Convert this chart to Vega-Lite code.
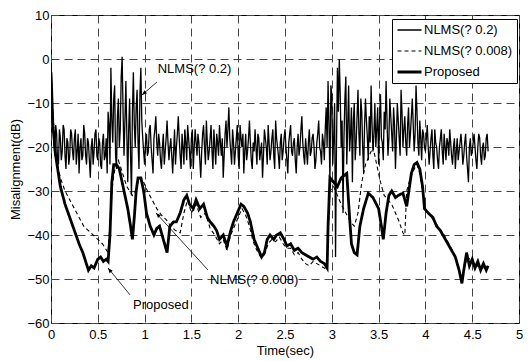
{
"$schema": "https://vega.github.io/schema/vega-lite/v6.json",
"autosize": "none",
"padding": {"left": 51, "top": 15, "right": 9, "bottom": 38},
"width": 468,
"height": 308,
"background": "white",
"config": {
  "view": {"stroke": "black", "strokeWidth": 1},
  "axis": {"grid": true, "gridColor": "#444", "gridDash": [8, 5], "gridWidth": 1, "gridOpacity": 1, "domain": false, "ticks": false, "labelFont": "Liberation Sans", "labelFontSize": 13, "labelColor": "black", "titleFont": "Liberation Sans", "titleFontSize": 13, "titleFontWeight": "normal", "titleColor": "black", "labelOverlap": false, "labelFlush": false},
  "text": {"font": "Liberation Sans", "fontSize": 13, "color": "black"}
},
"datasets": {
"series": [
{"s":"NLMS(? 0.2)","t":0.00,"v":-1},{"s":"NLMS(? 0.2)","t":0.01,"v":-8},{"s":"NLMS(? 0.2)","t":0.02,"v":-14},{"s":"NLMS(? 0.2)","t":0.03,"v":-19},{"s":"NLMS(? 0.2)","t":0.04,"v":-22},{"s":"NLMS(? 0.2)","t":0.05,"v":-15},{"s":"NLMS(? 0.2)","t":0.06,"v":-17},{"s":"NLMS(? 0.2)","t":0.07,"v":-23},{"s":"NLMS(? 0.2)","t":0.08,"v":-24},{"s":"NLMS(? 0.2)","t":0.09,"v":-16},
{"s":"NLMS(? 0.2)","t":0.10,"v":-18},{"s":"NLMS(? 0.2)","t":0.11,"v":-23},{"s":"NLMS(? 0.2)","t":0.12,"v":-21},{"s":"NLMS(? 0.2)","t":0.13,"v":-15},{"s":"NLMS(? 0.2)","t":0.14,"v":-16},{"s":"NLMS(? 0.2)","t":0.15,"v":-22},{"s":"NLMS(? 0.2)","t":0.16,"v":-25},{"s":"NLMS(? 0.2)","t":0.17,"v":-18},{"s":"NLMS(? 0.2)","t":0.18,"v":-19},{"s":"NLMS(? 0.2)","t":0.19,"v":-24},
{"s":"NLMS(? 0.2)","t":0.20,"v":-22},{"s":"NLMS(? 0.2)","t":0.21,"v":-16},{"s":"NLMS(? 0.2)","t":0.22,"v":-17},{"s":"NLMS(? 0.2)","t":0.23,"v":-21},{"s":"NLMS(? 0.2)","t":0.24,"v":-23},{"s":"NLMS(? 0.2)","t":0.25,"v":-18},{"s":"NLMS(? 0.2)","t":0.26,"v":-16},{"s":"NLMS(? 0.2)","t":0.27,"v":-24},{"s":"NLMS(? 0.2)","t":0.28,"v":-21},{"s":"NLMS(? 0.2)","t":0.29,"v":-17},
{"s":"NLMS(? 0.2)","t":0.30,"v":-26},{"s":"NLMS(? 0.2)","t":0.31,"v":-20},{"s":"NLMS(? 0.2)","t":0.32,"v":-18},{"s":"NLMS(? 0.2)","t":0.33,"v":-23},{"s":"NLMS(? 0.2)","t":0.34,"v":-22},{"s":"NLMS(? 0.2)","t":0.35,"v":-15},{"s":"NLMS(? 0.2)","t":0.36,"v":-17},{"s":"NLMS(? 0.2)","t":0.37,"v":-22},{"s":"NLMS(? 0.2)","t":0.38,"v":-24},{"s":"NLMS(? 0.2)","t":0.39,"v":-18},
{"s":"NLMS(? 0.2)","t":0.40,"v":-19},{"s":"NLMS(? 0.2)","t":0.41,"v":-23},{"s":"NLMS(? 0.2)","t":0.42,"v":-27},{"s":"NLMS(? 0.2)","t":0.43,"v":-20},{"s":"NLMS(? 0.2)","t":0.44,"v":-18},{"s":"NLMS(? 0.2)","t":0.45,"v":-24},{"s":"NLMS(? 0.2)","t":0.46,"v":-21},{"s":"NLMS(? 0.2)","t":0.47,"v":-17},{"s":"NLMS(? 0.2)","t":0.48,"v":-16},{"s":"NLMS(? 0.2)","t":0.49,"v":-22},
{"s":"NLMS(? 0.2)","t":0.50,"v":-23},{"s":"NLMS(? 0.2)","t":0.51,"v":-18},{"s":"NLMS(? 0.2)","t":0.52,"v":-19},{"s":"NLMS(? 0.2)","t":0.53,"v":-24},{"s":"NLMS(? 0.2)","t":0.54,"v":-25},{"s":"NLMS(? 0.2)","t":0.55,"v":-19},{"s":"NLMS(? 0.2)","t":0.56,"v":-17},{"s":"NLMS(? 0.2)","t":0.57,"v":-23},{"s":"NLMS(? 0.2)","t":0.58,"v":-22},{"s":"NLMS(? 0.2)","t":0.59,"v":-18},
{"s":"NLMS(? 0.2)","t":0.60,"v":-26},{"s":"NLMS(? 0.2)","t":0.61,"v":-12},{"s":"NLMS(? 0.2)","t":0.62,"v":-15},{"s":"NLMS(? 0.2)","t":0.63,"v":-24},{"s":"NLMS(? 0.2)","t":0.64,"v":-2},{"s":"NLMS(? 0.2)","t":0.65,"v":-14},{"s":"NLMS(? 0.2)","t":0.66,"v":-19},{"s":"NLMS(? 0.2)","t":0.67,"v":-9},{"s":"NLMS(? 0.2)","t":0.68,"v":-6},{"s":"NLMS(? 0.2)","t":0.69,"v":-22},
{"s":"NLMS(? 0.2)","t":0.70,"v":-25},{"s":"NLMS(? 0.2)","t":0.71,"v":-13},{"s":"NLMS(? 0.2)","t":0.72,"v":-9},{"s":"NLMS(? 0.2)","t":0.73,"v":-20},{"s":"NLMS(? 0.2)","t":0.74,"v":-16},{"s":"NLMS(? 0.2)","t":0.75,"v":-4},{"s":"NLMS(? 0.2)","t":0.76,"v":0.5},{"s":"NLMS(? 0.2)","t":0.77,"v":-12},{"s":"NLMS(? 0.2)","t":0.78,"v":-22},{"s":"NLMS(? 0.2)","t":0.79,"v":-14},
{"s":"NLMS(? 0.2)","t":0.80,"v":-5},{"s":"NLMS(? 0.2)","t":0.81,"v":-17},{"s":"NLMS(? 0.2)","t":0.82,"v":-28},{"s":"NLMS(? 0.2)","t":0.83,"v":-16},{"s":"NLMS(? 0.2)","t":0.84,"v":-9},{"s":"NLMS(? 0.2)","t":0.85,"v":-22},{"s":"NLMS(? 0.2)","t":0.86,"v":-31},{"s":"NLMS(? 0.2)","t":0.87,"v":-12},{"s":"NLMS(? 0.2)","t":0.88,"v":-3},{"s":"NLMS(? 0.2)","t":0.89,"v":-15},
{"s":"NLMS(? 0.2)","t":0.90,"v":-20},{"s":"NLMS(? 0.2)","t":0.91,"v":-11},{"s":"NLMS(? 0.2)","t":0.92,"v":-7},{"s":"NLMS(? 0.2)","t":0.93,"v":-19},{"s":"NLMS(? 0.2)","t":0.94,"v":-25},{"s":"NLMS(? 0.2)","t":0.95,"v":-8},{"s":"NLMS(? 0.2)","t":0.96,"v":-2},{"s":"NLMS(? 0.2)","t":0.97,"v":-14},{"s":"NLMS(? 0.2)","t":0.98,"v":-18},{"s":"NLMS(? 0.2)","t":0.99,"v":-21},
{"s":"NLMS(? 0.2)","t":1.00,"v":-24},{"s":"NLMS(? 0.2)","t":1.01,"v":-19},{"s":"NLMS(? 0.2)","t":1.02,"v":-17},{"s":"NLMS(? 0.2)","t":1.03,"v":-22},{"s":"NLMS(? 0.2)","t":1.04,"v":-21},{"s":"NLMS(? 0.2)","t":1.05,"v":-16},{"s":"NLMS(? 0.2)","t":1.06,"v":-15},{"s":"NLMS(? 0.2)","t":1.07,"v":-20},{"s":"NLMS(? 0.2)","t":1.08,"v":-23},{"s":"NLMS(? 0.2)","t":1.09,"v":-26},
{"s":"NLMS(? 0.2)","t":1.10,"v":-18},{"s":"NLMS(? 0.2)","t":1.11,"v":-16},{"s":"NLMS(? 0.2)","t":1.12,"v":-13},{"s":"NLMS(? 0.2)","t":1.13,"v":-19},{"s":"NLMS(? 0.2)","t":1.14,"v":-22},{"s":"NLMS(? 0.2)","t":1.15,"v":-17},{"s":"NLMS(? 0.2)","t":1.16,"v":-19},{"s":"NLMS(? 0.2)","t":1.17,"v":-23},{"s":"NLMS(? 0.2)","t":1.18,"v":-25},{"s":"NLMS(? 0.2)","t":1.19,"v":-20},
{"s":"NLMS(? 0.2)","t":1.20,"v":-17},{"s":"NLMS(? 0.2)","t":1.21,"v":-24},{"s":"NLMS(? 0.2)","t":1.22,"v":-21},{"s":"NLMS(? 0.2)","t":1.23,"v":-18},{"s":"NLMS(? 0.2)","t":1.24,"v":-14},{"s":"NLMS(? 0.2)","t":1.25,"v":-19},{"s":"NLMS(? 0.2)","t":1.26,"v":-23},{"s":"NLMS(? 0.2)","t":1.27,"v":-20},{"s":"NLMS(? 0.2)","t":1.28,"v":-18},{"s":"NLMS(? 0.2)","t":1.29,"v":-22},
{"s":"NLMS(? 0.2)","t":1.30,"v":-26},{"s":"NLMS(? 0.2)","t":1.31,"v":-21},{"s":"NLMS(? 0.2)","t":1.32,"v":-16},{"s":"NLMS(? 0.2)","t":1.33,"v":-24},{"s":"NLMS(? 0.2)","t":1.34,"v":-20},{"s":"NLMS(? 0.2)","t":1.35,"v":-17},{"s":"NLMS(? 0.2)","t":1.36,"v":-13},{"s":"NLMS(? 0.2)","t":1.37,"v":-18},{"s":"NLMS(? 0.2)","t":1.38,"v":-22},{"s":"NLMS(? 0.2)","t":1.39,"v":-25},
{"s":"NLMS(? 0.2)","t":1.40,"v":-17},{"s":"NLMS(? 0.2)","t":1.41,"v":-20},{"s":"NLMS(? 0.2)","t":1.42,"v":-24},{"s":"NLMS(? 0.2)","t":1.43,"v":-16},{"s":"NLMS(? 0.2)","t":1.44,"v":-19},{"s":"NLMS(? 0.2)","t":1.45,"v":-23},{"s":"NLMS(? 0.2)","t":1.46,"v":-15},{"s":"NLMS(? 0.2)","t":1.47,"v":-18},{"s":"NLMS(? 0.2)","t":1.48,"v":-21},{"s":"NLMS(? 0.2)","t":1.49,"v":-25},
{"s":"NLMS(? 0.2)","t":1.50,"v":-18},{"s":"NLMS(? 0.2)","t":1.51,"v":-16},{"s":"NLMS(? 0.2)","t":1.52,"v":-25},{"s":"NLMS(? 0.2)","t":1.53,"v":-20},{"s":"NLMS(? 0.2)","t":1.54,"v":-16},{"s":"NLMS(? 0.2)","t":1.55,"v":-19},{"s":"NLMS(? 0.2)","t":1.56,"v":-22},{"s":"NLMS(? 0.2)","t":1.57,"v":-17},{"s":"NLMS(? 0.2)","t":1.58,"v":-19},{"s":"NLMS(? 0.2)","t":1.59,"v":-23},
{"s":"NLMS(? 0.2)","t":1.60,"v":-27},{"s":"NLMS(? 0.2)","t":1.61,"v":-21},{"s":"NLMS(? 0.2)","t":1.62,"v":-17},{"s":"NLMS(? 0.2)","t":1.63,"v":-15},{"s":"NLMS(? 0.2)","t":1.64,"v":-20},{"s":"NLMS(? 0.2)","t":1.65,"v":-24},{"s":"NLMS(? 0.2)","t":1.66,"v":-14},{"s":"NLMS(? 0.2)","t":1.67,"v":-19},{"s":"NLMS(? 0.2)","t":1.68,"v":-23},{"s":"NLMS(? 0.2)","t":1.69,"v":-21},
{"s":"NLMS(? 0.2)","t":1.70,"v":-18},{"s":"NLMS(? 0.2)","t":1.71,"v":-15},{"s":"NLMS(? 0.2)","t":1.72,"v":-21},{"s":"NLMS(? 0.2)","t":1.73,"v":-25},{"s":"NLMS(? 0.2)","t":1.74,"v":-16},{"s":"NLMS(? 0.2)","t":1.75,"v":-20},{"s":"NLMS(? 0.2)","t":1.76,"v":-24},{"s":"NLMS(? 0.2)","t":1.77,"v":-17},{"s":"NLMS(? 0.2)","t":1.78,"v":-19},{"s":"NLMS(? 0.2)","t":1.79,"v":-22},
{"s":"NLMS(? 0.2)","t":1.80,"v":-15},{"s":"NLMS(? 0.2)","t":1.81,"v":-19},{"s":"NLMS(? 0.2)","t":1.82,"v":-22},{"s":"NLMS(? 0.2)","t":1.83,"v":-18},{"s":"NLMS(? 0.2)","t":1.84,"v":-27},{"s":"NLMS(? 0.2)","t":1.85,"v":-22},{"s":"NLMS(? 0.2)","t":1.86,"v":-17},{"s":"NLMS(? 0.2)","t":1.87,"v":-14},{"s":"NLMS(? 0.2)","t":1.88,"v":-20},{"s":"NLMS(? 0.2)","t":1.89,"v":-16},
{"s":"NLMS(? 0.2)","t":1.90,"v":-11},{"s":"NLMS(? 0.2)","t":1.91,"v":-18},{"s":"NLMS(? 0.2)","t":1.92,"v":-21},{"s":"NLMS(? 0.2)","t":1.93,"v":-24},{"s":"NLMS(? 0.2)","t":1.94,"v":-16},{"s":"NLMS(? 0.2)","t":1.95,"v":-19},{"s":"NLMS(? 0.2)","t":1.96,"v":-24},{"s":"NLMS(? 0.2)","t":1.97,"v":-21},{"s":"NLMS(? 0.2)","t":1.98,"v":-18},{"s":"NLMS(? 0.2)","t":1.99,"v":-15},
{"s":"NLMS(? 0.2)","t":2.00,"v":-22},{"s":"NLMS(? 0.2)","t":2.01,"v":-25},{"s":"NLMS(? 0.2)","t":2.02,"v":-15},{"s":"NLMS(? 0.2)","t":2.03,"v":-18},{"s":"NLMS(? 0.2)","t":2.04,"v":-20},{"s":"NLMS(? 0.2)","t":2.05,"v":-17},{"s":"NLMS(? 0.2)","t":2.06,"v":-26},{"s":"NLMS(? 0.2)","t":2.07,"v":-21},{"s":"NLMS(? 0.2)","t":2.08,"v":-17},{"s":"NLMS(? 0.2)","t":2.09,"v":-23},
{"s":"NLMS(? 0.2)","t":2.10,"v":-21},{"s":"NLMS(? 0.2)","t":2.11,"v":-18},{"s":"NLMS(? 0.2)","t":2.12,"v":-14},{"s":"NLMS(? 0.2)","t":2.13,"v":-19},{"s":"NLMS(? 0.2)","t":2.14,"v":-23},{"s":"NLMS(? 0.2)","t":2.15,"v":-25},{"s":"NLMS(? 0.2)","t":2.16,"v":-19},{"s":"NLMS(? 0.2)","t":2.17,"v":-21},{"s":"NLMS(? 0.2)","t":2.18,"v":-16},{"s":"NLMS(? 0.2)","t":2.19,"v":-20},
{"s":"NLMS(? 0.2)","t":2.20,"v":-24},{"s":"NLMS(? 0.2)","t":2.21,"v":-17},{"s":"NLMS(? 0.2)","t":2.22,"v":-18},{"s":"NLMS(? 0.2)","t":2.23,"v":-23},{"s":"NLMS(? 0.2)","t":2.24,"v":-21},{"s":"NLMS(? 0.2)","t":2.25,"v":-19},{"s":"NLMS(? 0.2)","t":2.26,"v":-27},{"s":"NLMS(? 0.2)","t":2.27,"v":-22},{"s":"NLMS(? 0.2)","t":2.28,"v":-16},{"s":"NLMS(? 0.2)","t":2.29,"v":-18},
{"s":"NLMS(? 0.2)","t":2.30,"v":-20},{"s":"NLMS(? 0.2)","t":2.31,"v":-24},{"s":"NLMS(? 0.2)","t":2.32,"v":-15},{"s":"NLMS(? 0.2)","t":2.33,"v":-19},{"s":"NLMS(? 0.2)","t":2.34,"v":-23},{"s":"NLMS(? 0.2)","t":2.35,"v":-21},{"s":"NLMS(? 0.2)","t":2.36,"v":-18},{"s":"NLMS(? 0.2)","t":2.37,"v":-16},{"s":"NLMS(? 0.2)","t":2.38,"v":-22},{"s":"NLMS(? 0.2)","t":2.39,"v":-25},
{"s":"NLMS(? 0.2)","t":2.40,"v":-14},{"s":"NLMS(? 0.2)","t":2.41,"v":-18},{"s":"NLMS(? 0.2)","t":2.42,"v":-20},{"s":"NLMS(? 0.2)","t":2.43,"v":-22},{"s":"NLMS(? 0.2)","t":2.44,"v":-25},{"s":"NLMS(? 0.2)","t":2.45,"v":-19},{"s":"NLMS(? 0.2)","t":2.46,"v":-17},{"s":"NLMS(? 0.2)","t":2.47,"v":-23},{"s":"NLMS(? 0.2)","t":2.48,"v":-21},{"s":"NLMS(? 0.2)","t":2.49,"v":-18},
{"s":"NLMS(? 0.2)","t":2.50,"v":-16},{"s":"NLMS(? 0.2)","t":2.51,"v":-20},{"s":"NLMS(? 0.2)","t":2.52,"v":-23},{"s":"NLMS(? 0.2)","t":2.53,"v":-26},{"s":"NLMS(? 0.2)","t":2.54,"v":-19},{"s":"NLMS(? 0.2)","t":2.55,"v":-17},{"s":"NLMS(? 0.2)","t":2.56,"v":-15},{"s":"NLMS(? 0.2)","t":2.57,"v":-21},{"s":"NLMS(? 0.2)","t":2.58,"v":-22},{"s":"NLMS(? 0.2)","t":2.59,"v":-19},
{"s":"NLMS(? 0.2)","t":2.60,"v":-18},{"s":"NLMS(? 0.2)","t":2.61,"v":-23},{"s":"NLMS(? 0.2)","t":2.62,"v":-26},{"s":"NLMS(? 0.2)","t":2.63,"v":-20},{"s":"NLMS(? 0.2)","t":2.64,"v":-17},{"s":"NLMS(? 0.2)","t":2.65,"v":-22},{"s":"NLMS(? 0.2)","t":2.66,"v":-20},{"s":"NLMS(? 0.2)","t":2.67,"v":-16},{"s":"NLMS(? 0.2)","t":2.68,"v":-13},{"s":"NLMS(? 0.2)","t":2.69,"v":-19},
{"s":"NLMS(? 0.2)","t":2.70,"v":-22},{"s":"NLMS(? 0.2)","t":2.71,"v":-24},{"s":"NLMS(? 0.2)","t":2.72,"v":-18},{"s":"NLMS(? 0.2)","t":2.73,"v":-21},{"s":"NLMS(? 0.2)","t":2.74,"v":-24},{"s":"NLMS(? 0.2)","t":2.75,"v":-19},{"s":"NLMS(? 0.2)","t":2.76,"v":-16},{"s":"NLMS(? 0.2)","t":2.77,"v":-22},{"s":"NLMS(? 0.2)","t":2.78,"v":-21},{"s":"NLMS(? 0.2)","t":2.79,"v":-18},
{"s":"NLMS(? 0.2)","t":2.80,"v":-17},{"s":"NLMS(? 0.2)","t":2.81,"v":-20},{"s":"NLMS(? 0.2)","t":2.82,"v":-25},{"s":"NLMS(? 0.2)","t":2.83,"v":-23},{"s":"NLMS(? 0.2)","t":2.84,"v":-19},{"s":"NLMS(? 0.2)","t":2.85,"v":-17},{"s":"NLMS(? 0.2)","t":2.86,"v":-14},{"s":"NLMS(? 0.2)","t":2.87,"v":-20},{"s":"NLMS(? 0.2)","t":2.88,"v":-21},{"s":"NLMS(? 0.2)","t":2.89,"v":-24},
{"s":"NLMS(? 0.2)","t":2.90,"v":-17},{"s":"NLMS(? 0.2)","t":2.91,"v":-19},{"s":"NLMS(? 0.2)","t":2.92,"v":-23},{"s":"NLMS(? 0.2)","t":2.93,"v":-16},{"s":"NLMS(? 0.2)","t":2.94,"v":-11},{"s":"NLMS(? 0.2)","t":2.95,"v":-20},{"s":"NLMS(? 0.2)","t":2.96,"v":-5},{"s":"NLMS(? 0.2)","t":2.97,"v":-15},{"s":"NLMS(? 0.2)","t":2.98,"v":-28},{"s":"NLMS(? 0.2)","t":2.99,"v":-6},
{"s":"NLMS(? 0.2)","t":3.00,"v":-8},{"s":"NLMS(? 0.2)","t":3.01,"v":-24},{"s":"NLMS(? 0.2)","t":3.02,"v":-18},{"s":"NLMS(? 0.2)","t":3.03,"v":-10},{"s":"NLMS(? 0.2)","t":3.04,"v":-45},{"s":"NLMS(? 0.2)","t":3.05,"v":-20},{"s":"NLMS(? 0.2)","t":3.06,"v":-2},{"s":"NLMS(? 0.2)","t":3.07,"v":-12},{"s":"NLMS(? 0.2)","t":3.08,"v":0},{"s":"NLMS(? 0.2)","t":3.09,"v":-8},
{"s":"NLMS(? 0.2)","t":3.10,"v":-20},{"s":"NLMS(? 0.2)","t":3.11,"v":-14},{"s":"NLMS(? 0.2)","t":3.12,"v":-35},{"s":"NLMS(? 0.2)","t":3.13,"v":-18},{"s":"NLMS(? 0.2)","t":3.14,"v":-9},{"s":"NLMS(? 0.2)","t":3.15,"v":-4},{"s":"NLMS(? 0.2)","t":3.16,"v":-24},{"s":"NLMS(? 0.2)","t":3.17,"v":-15},{"s":"NLMS(? 0.2)","t":3.18,"v":-6},{"s":"NLMS(? 0.2)","t":3.19,"v":-21},
{"s":"NLMS(? 0.2)","t":3.20,"v":-17},{"s":"NLMS(? 0.2)","t":3.21,"v":-11},{"s":"NLMS(? 0.2)","t":3.22,"v":-28},{"s":"NLMS(? 0.2)","t":3.23,"v":-14},{"s":"NLMS(? 0.2)","t":3.24,"v":-10},{"s":"NLMS(? 0.2)","t":3.25,"v":-23},{"s":"NLMS(? 0.2)","t":3.26,"v":-19},{"s":"NLMS(? 0.2)","t":3.27,"v":-13},{"s":"NLMS(? 0.2)","t":3.28,"v":-7},{"s":"NLMS(? 0.2)","t":3.29,"v":-17},
{"s":"NLMS(? 0.2)","t":3.30,"v":-22},{"s":"NLMS(? 0.2)","t":3.31,"v":-9},{"s":"NLMS(? 0.2)","t":3.32,"v":-12},{"s":"NLMS(? 0.2)","t":3.33,"v":-20},{"s":"NLMS(? 0.2)","t":3.34,"v":-26},{"s":"NLMS(? 0.2)","t":3.35,"v":-15},{"s":"NLMS(? 0.2)","t":3.36,"v":-9},{"s":"NLMS(? 0.2)","t":3.37,"v":-14},{"s":"NLMS(? 0.2)","t":3.38,"v":-18},{"s":"NLMS(? 0.2)","t":3.39,"v":-23},
{"s":"NLMS(? 0.2)","t":3.40,"v":-13},{"s":"NLMS(? 0.2)","t":3.41,"v":-19},{"s":"NLMS(? 0.2)","t":3.42,"v":-6},{"s":"NLMS(? 0.2)","t":3.43,"v":-15},{"s":"NLMS(? 0.2)","t":3.44,"v":-21},{"s":"NLMS(? 0.2)","t":3.45,"v":-17},{"s":"NLMS(? 0.2)","t":3.46,"v":-10},{"s":"NLMS(? 0.2)","t":3.47,"v":-20},{"s":"NLMS(? 0.2)","t":3.48,"v":-16},{"s":"NLMS(? 0.2)","t":3.49,"v":-11},
{"s":"NLMS(? 0.2)","t":3.50,"v":-24},{"s":"NLMS(? 0.2)","t":3.51,"v":-14},{"s":"NLMS(? 0.2)","t":3.52,"v":-8},{"s":"NLMS(? 0.2)","t":3.53,"v":-18},{"s":"NLMS(? 0.2)","t":3.54,"v":-19},{"s":"NLMS(? 0.2)","t":3.55,"v":-23},{"s":"NLMS(? 0.2)","t":3.56,"v":-12},{"s":"NLMS(? 0.2)","t":3.57,"v":-16},{"s":"NLMS(? 0.2)","t":3.58,"v":-5},{"s":"NLMS(? 0.2)","t":3.59,"v":-14},
{"s":"NLMS(? 0.2)","t":3.60,"v":-22},{"s":"NLMS(? 0.2)","t":3.61,"v":-18},{"s":"NLMS(? 0.2)","t":3.62,"v":-9},{"s":"NLMS(? 0.2)","t":3.63,"v":-13},{"s":"NLMS(? 0.2)","t":3.64,"v":-17},{"s":"NLMS(? 0.2)","t":3.65,"v":-21},{"s":"NLMS(? 0.2)","t":3.66,"v":-11},{"s":"NLMS(? 0.2)","t":3.67,"v":-15},{"s":"NLMS(? 0.2)","t":3.68,"v":-25},{"s":"NLMS(? 0.2)","t":3.69,"v":-18},
{"s":"NLMS(? 0.2)","t":3.70,"v":-10},{"s":"NLMS(? 0.2)","t":3.71,"v":-14},{"s":"NLMS(? 0.2)","t":3.72,"v":-18},{"s":"NLMS(? 0.2)","t":3.73,"v":-22},{"s":"NLMS(? 0.2)","t":3.74,"v":-7},{"s":"NLMS(? 0.2)","t":3.75,"v":-12},{"s":"NLMS(? 0.2)","t":3.76,"v":-20},{"s":"NLMS(? 0.2)","t":3.77,"v":-16},{"s":"NLMS(? 0.2)","t":3.78,"v":-13},{"s":"NLMS(? 0.2)","t":3.79,"v":-19},
{"s":"NLMS(? 0.2)","t":3.80,"v":-22},{"s":"NLMS(? 0.2)","t":3.81,"v":-15},{"s":"NLMS(? 0.2)","t":3.82,"v":-11},{"s":"NLMS(? 0.2)","t":3.83,"v":-20},{"s":"NLMS(? 0.2)","t":3.84,"v":-17},{"s":"NLMS(? 0.2)","t":3.85,"v":-13},{"s":"NLMS(? 0.2)","t":3.86,"v":-9},{"s":"NLMS(? 0.2)","t":3.87,"v":-15},{"s":"NLMS(? 0.2)","t":3.88,"v":-21},{"s":"NLMS(? 0.2)","t":3.89,"v":-17},
{"s":"NLMS(? 0.2)","t":3.90,"v":-6},{"s":"NLMS(? 0.2)","t":3.91,"v":-12},{"s":"NLMS(? 0.2)","t":3.92,"v":-19},{"s":"NLMS(? 0.2)","t":3.93,"v":-22},{"s":"NLMS(? 0.2)","t":3.94,"v":-14},{"s":"NLMS(? 0.2)","t":3.95,"v":-18},{"s":"NLMS(? 0.2)","t":3.96,"v":-23},{"s":"NLMS(? 0.2)","t":3.97,"v":-16},{"s":"NLMS(? 0.2)","t":3.98,"v":-17},{"s":"NLMS(? 0.2)","t":3.99,"v":-20},
{"s":"NLMS(? 0.2)","t":4.00,"v":-21},{"s":"NLMS(? 0.2)","t":4.01,"v":-18},{"s":"NLMS(? 0.2)","t":4.02,"v":-15},{"s":"NLMS(? 0.2)","t":4.03,"v":-20},{"s":"NLMS(? 0.2)","t":4.04,"v":-24},{"s":"NLMS(? 0.2)","t":4.05,"v":-21},{"s":"NLMS(? 0.2)","t":4.06,"v":-18},{"s":"NLMS(? 0.2)","t":4.07,"v":-16},{"s":"NLMS(? 0.2)","t":4.08,"v":-22},{"s":"NLMS(? 0.2)","t":4.09,"v":-25},
{"s":"NLMS(? 0.2)","t":4.10,"v":-16},{"s":"NLMS(? 0.2)","t":4.11,"v":-19},{"s":"NLMS(? 0.2)","t":4.12,"v":-20},{"s":"NLMS(? 0.2)","t":4.13,"v":-23},{"s":"NLMS(? 0.2)","t":4.14,"v":-25},{"s":"NLMS(? 0.2)","t":4.15,"v":-20},{"s":"NLMS(? 0.2)","t":4.16,"v":-18},{"s":"NLMS(? 0.2)","t":4.17,"v":-16},{"s":"NLMS(? 0.2)","t":4.18,"v":-21},{"s":"NLMS(? 0.2)","t":4.19,"v":-24},
{"s":"NLMS(? 0.2)","t":4.20,"v":-17},{"s":"NLMS(? 0.2)","t":4.21,"v":-20},{"s":"NLMS(? 0.2)","t":4.22,"v":-23},{"s":"NLMS(? 0.2)","t":4.23,"v":-18},{"s":"NLMS(? 0.2)","t":4.24,"v":-19},{"s":"NLMS(? 0.2)","t":4.25,"v":-22},{"s":"NLMS(? 0.2)","t":4.26,"v":-16},{"s":"NLMS(? 0.2)","t":4.27,"v":-19},{"s":"NLMS(? 0.2)","t":4.28,"v":-22},{"s":"NLMS(? 0.2)","t":4.29,"v":-24},
{"s":"NLMS(? 0.2)","t":4.30,"v":-20},{"s":"NLMS(? 0.2)","t":4.31,"v":-18},{"s":"NLMS(? 0.2)","t":4.32,"v":-25},{"s":"NLMS(? 0.2)","t":4.33,"v":-21},{"s":"NLMS(? 0.2)","t":4.34,"v":-18},{"s":"NLMS(? 0.2)","t":4.35,"v":-23},{"s":"NLMS(? 0.2)","t":4.36,"v":-21},{"s":"NLMS(? 0.2)","t":4.37,"v":-19},{"s":"NLMS(? 0.2)","t":4.38,"v":-17},{"s":"NLMS(? 0.2)","t":4.39,"v":-20},
{"s":"NLMS(? 0.2)","t":4.40,"v":-24},{"s":"NLMS(? 0.2)","t":4.41,"v":-22},{"s":"NLMS(? 0.2)","t":4.42,"v":-19},{"s":"NLMS(? 0.2)","t":4.43,"v":-17},{"s":"NLMS(? 0.2)","t":4.44,"v":-22},{"s":"NLMS(? 0.2)","t":4.45,"v":-25},{"s":"NLMS(? 0.2)","t":4.46,"v":-28},{"s":"NLMS(? 0.2)","t":4.47,"v":-20},{"s":"NLMS(? 0.2)","t":4.48,"v":-18},{"s":"NLMS(? 0.2)","t":4.49,"v":-22},
{"s":"NLMS(? 0.2)","t":4.50,"v":-21},{"s":"NLMS(? 0.2)","t":4.51,"v":-19},{"s":"NLMS(? 0.2)","t":4.52,"v":-17},{"s":"NLMS(? 0.2)","t":4.53,"v":-20},{"s":"NLMS(? 0.2)","t":4.54,"v":-23},{"s":"NLMS(? 0.2)","t":4.55,"v":-25},{"s":"NLMS(? 0.2)","t":4.56,"v":-20},{"s":"NLMS(? 0.2)","t":4.57,"v":-17},{"s":"NLMS(? 0.2)","t":4.58,"v":-18},{"s":"NLMS(? 0.2)","t":4.59,"v":-22},
{"s":"NLMS(? 0.2)","t":4.60,"v":-24},{"s":"NLMS(? 0.2)","t":4.61,"v":-20},{"s":"NLMS(? 0.2)","t":4.62,"v":-19},{"s":"NLMS(? 0.2)","t":4.63,"v":-23},{"s":"NLMS(? 0.2)","t":4.64,"v":-22},{"s":"NLMS(? 0.2)","t":4.65,"v":-18},{"s":"NLMS(? 0.2)","t":4.66,"v":-17},{"s":"NLMS(? 0.2)","t":4.67,"v":-21},

{"s":"NLMS(? 0.008)","t":0.00,"v":-2},{"s":"NLMS(? 0.008)","t":0.02,"v":-12},{"s":"NLMS(? 0.008)","t":0.04,"v":-20},{"s":"NLMS(? 0.008)","t":0.07,"v":-24},{"s":"NLMS(? 0.008)","t":0.10,"v":-27},{"s":"NLMS(? 0.008)","t":0.15,"v":-30},{"s":"NLMS(? 0.008)","t":0.20,"v":-32},{"s":"NLMS(? 0.008)","t":0.25,"v":-34},{"s":"NLMS(? 0.008)","t":0.30,"v":-36},{"s":"NLMS(? 0.008)","t":0.35,"v":-38},
{"s":"NLMS(? 0.008)","t":0.40,"v":-39},{"s":"NLMS(? 0.008)","t":0.45,"v":-40},{"s":"NLMS(? 0.008)","t":0.50,"v":-41},{"s":"NLMS(? 0.008)","t":0.55,"v":-42},{"s":"NLMS(? 0.008)","t":0.58,"v":-43},{"s":"NLMS(? 0.008)","t":0.61,"v":-44},{"s":"NLMS(? 0.008)","t":0.63,"v":-37},{"s":"NLMS(? 0.008)","t":0.66,"v":-28},{"s":"NLMS(? 0.008)","t":0.69,"v":-24},{"s":"NLMS(? 0.008)","t":0.72,"v":-23},
{"s":"NLMS(? 0.008)","t":0.75,"v":-25},{"s":"NLMS(? 0.008)","t":0.78,"v":-27},{"s":"NLMS(? 0.008)","t":0.81,"v":-29},{"s":"NLMS(? 0.008)","t":0.84,"v":-30},{"s":"NLMS(? 0.008)","t":0.87,"v":-31},{"s":"NLMS(? 0.008)","t":0.90,"v":-30},{"s":"NLMS(? 0.008)","t":0.93,"v":-28},{"s":"NLMS(? 0.008)","t":0.96,"v":-27},{"s":"NLMS(? 0.008)","t":0.99,"v":-28},{"s":"NLMS(? 0.008)","t":1.03,"v":-30},
{"s":"NLMS(? 0.008)","t":1.08,"v":-32},{"s":"NLMS(? 0.008)","t":1.13,"v":-34},{"s":"NLMS(? 0.008)","t":1.18,"v":-35.5},{"s":"NLMS(? 0.008)","t":1.23,"v":-36.5},{"s":"NLMS(? 0.008)","t":1.28,"v":-38},{"s":"NLMS(? 0.008)","t":1.33,"v":-39},{"s":"NLMS(? 0.008)","t":1.38,"v":-39.5},{"s":"NLMS(? 0.008)","t":1.42,"v":-35},{"s":"NLMS(? 0.008)","t":1.46,"v":-32},{"s":"NLMS(? 0.008)","t":1.50,"v":-35},
{"s":"NLMS(? 0.008)","t":1.55,"v":-33},{"s":"NLMS(? 0.008)","t":1.60,"v":-36},{"s":"NLMS(? 0.008)","t":1.65,"v":-35},{"s":"NLMS(? 0.008)","t":1.70,"v":-38.5},{"s":"NLMS(? 0.008)","t":1.75,"v":-40},{"s":"NLMS(? 0.008)","t":1.80,"v":-42},{"s":"NLMS(? 0.008)","t":1.84,"v":-41},{"s":"NLMS(? 0.008)","t":1.88,"v":-43.5},{"s":"NLMS(? 0.008)","t":1.92,"v":-40},{"s":"NLMS(? 0.008)","t":1.96,"v":-38},
{"s":"NLMS(? 0.008)","t":2.00,"v":-36},{"s":"NLMS(? 0.008)","t":2.04,"v":-34},{"s":"NLMS(? 0.008)","t":2.08,"v":-35.5},{"s":"NLMS(? 0.008)","t":2.12,"v":-38},{"s":"NLMS(? 0.008)","t":2.16,"v":-41.5},{"s":"NLMS(? 0.008)","t":2.20,"v":-43.5},{"s":"NLMS(? 0.008)","t":2.24,"v":-45},{"s":"NLMS(? 0.008)","t":2.28,"v":-44.5},{"s":"NLMS(? 0.008)","t":2.32,"v":-42},{"s":"NLMS(? 0.008)","t":2.36,"v":-41},
{"s":"NLMS(? 0.008)","t":2.40,"v":-41.5},{"s":"NLMS(? 0.008)","t":2.44,"v":-40.5},{"s":"NLMS(? 0.008)","t":2.48,"v":-42},{"s":"NLMS(? 0.008)","t":2.52,"v":-43},{"s":"NLMS(? 0.008)","t":2.56,"v":-43},{"s":"NLMS(? 0.008)","t":2.60,"v":-44.5},{"s":"NLMS(? 0.008)","t":2.64,"v":-44},{"s":"NLMS(? 0.008)","t":2.68,"v":-45.5},{"s":"NLMS(? 0.008)","t":2.72,"v":-46.5},{"s":"NLMS(? 0.008)","t":2.76,"v":-47},
{"s":"NLMS(? 0.008)","t":2.80,"v":-46},{"s":"NLMS(? 0.008)","t":2.84,"v":-46.5},{"s":"NLMS(? 0.008)","t":2.88,"v":-47},{"s":"NLMS(? 0.008)","t":2.92,"v":-47.5},{"s":"NLMS(? 0.008)","t":2.95,"v":-48},{"s":"NLMS(? 0.008)","t":2.96,"v":-40},{"s":"NLMS(? 0.008)","t":2.98,"v":-30},{"s":"NLMS(? 0.008)","t":3.02,"v":-29},{"s":"NLMS(? 0.008)","t":3.06,"v":-31},{"s":"NLMS(? 0.008)","t":3.10,"v":-33},
{"s":"NLMS(? 0.008)","t":3.15,"v":-35},{"s":"NLMS(? 0.008)","t":3.20,"v":-37},{"s":"NLMS(? 0.008)","t":3.24,"v":-38},{"s":"NLMS(? 0.008)","t":3.28,"v":-35},{"s":"NLMS(? 0.008)","t":3.32,"v":-28},{"s":"NLMS(? 0.008)","t":3.36,"v":-24},{"s":"NLMS(? 0.008)","t":3.40,"v":-22},{"s":"NLMS(? 0.008)","t":3.44,"v":-20},{"s":"NLMS(? 0.008)","t":3.48,"v":-24},{"s":"NLMS(? 0.008)","t":3.52,"v":-28},
{"s":"NLMS(? 0.008)","t":3.56,"v":-31},{"s":"NLMS(? 0.008)","t":3.60,"v":-32},{"s":"NLMS(? 0.008)","t":3.64,"v":-33},{"s":"NLMS(? 0.008)","t":3.68,"v":-35},{"s":"NLMS(? 0.008)","t":3.72,"v":-37},{"s":"NLMS(? 0.008)","t":3.76,"v":-39.5},{"s":"NLMS(? 0.008)","t":3.78,"v":-40},{"s":"NLMS(? 0.008)","t":3.80,"v":-30},{"s":"NLMS(? 0.008)","t":3.84,"v":-27},{"s":"NLMS(? 0.008)","t":3.88,"v":-25},
{"s":"NLMS(? 0.008)","t":3.91,"v":-24},{"s":"NLMS(? 0.008)","t":3.94,"v":-26},{"s":"NLMS(? 0.008)","t":3.97,"v":-30},{"s":"NLMS(? 0.008)","t":4.00,"v":-34},{"s":"NLMS(? 0.008)","t":4.05,"v":-35.5},{"s":"NLMS(? 0.008)","t":4.10,"v":-37},{"s":"NLMS(? 0.008)","t":4.15,"v":-38.5},{"s":"NLMS(? 0.008)","t":4.20,"v":-40},{"s":"NLMS(? 0.008)","t":4.25,"v":-42},{"s":"NLMS(? 0.008)","t":4.30,"v":-44},
{"s":"NLMS(? 0.008)","t":4.35,"v":-47},{"s":"NLMS(? 0.008)","t":4.39,"v":-50},{"s":"NLMS(? 0.008)","t":4.42,"v":-47},{"s":"NLMS(? 0.008)","t":4.45,"v":-45},{"s":"NLMS(? 0.008)","t":4.50,"v":-46},{"s":"NLMS(? 0.008)","t":4.55,"v":-47},{"s":"NLMS(? 0.008)","t":4.60,"v":-47.5},{"s":"NLMS(? 0.008)","t":4.67,"v":-47.5},

{"s":"Proposed","t":0.00,"v":-3},{"s":"Proposed","t":0.02,"v":-15},{"s":"Proposed","t":0.05,"v":-22},{"s":"Proposed","t":0.10,"v":-29},{"s":"Proposed","t":0.15,"v":-33},{"s":"Proposed","t":0.20,"v":-36},{"s":"Proposed","t":0.25,"v":-39},{"s":"Proposed","t":0.30,"v":-42},{"s":"Proposed","t":0.34,"v":-44},{"s":"Proposed","t":0.37,"v":-46},
{"s":"Proposed","t":0.40,"v":-48},{"s":"Proposed","t":0.43,"v":-47},{"s":"Proposed","t":0.46,"v":-47.5},{"s":"Proposed","t":0.50,"v":-45.5},{"s":"Proposed","t":0.53,"v":-45},{"s":"Proposed","t":0.56,"v":-46},{"s":"Proposed","t":0.59,"v":-45.5},{"s":"Proposed","t":0.61,"v":-46},{"s":"Proposed","t":0.63,"v":-40},{"s":"Proposed","t":0.65,"v":-28},
{"s":"Proposed","t":0.67,"v":-24},{"s":"Proposed","t":0.70,"v":-24},{"s":"Proposed","t":0.73,"v":-25},{"s":"Proposed","t":0.76,"v":-28},{"s":"Proposed","t":0.79,"v":-31},{"s":"Proposed","t":0.82,"v":-34},{"s":"Proposed","t":0.85,"v":-38},{"s":"Proposed","t":0.87,"v":-41},{"s":"Proposed","t":0.89,"v":-36},{"s":"Proposed","t":0.91,"v":-30},
{"s":"Proposed","t":0.93,"v":-27},{"s":"Proposed","t":0.96,"v":-27},{"s":"Proposed","t":0.99,"v":-30},{"s":"Proposed","t":1.02,"v":-35},{"s":"Proposed","t":1.06,"v":-38},{"s":"Proposed","t":1.10,"v":-40},{"s":"Proposed","t":1.13,"v":-38.5},{"s":"Proposed","t":1.16,"v":-38},{"s":"Proposed","t":1.20,"v":-41},{"s":"Proposed","t":1.24,"v":-44},
{"s":"Proposed","t":1.27,"v":-38},{"s":"Proposed","t":1.31,"v":-37},{"s":"Proposed","t":1.34,"v":-37},{"s":"Proposed","t":1.38,"v":-35},{"s":"Proposed","t":1.42,"v":-32},{"s":"Proposed","t":1.45,"v":-31},{"s":"Proposed","t":1.48,"v":-33},{"s":"Proposed","t":1.52,"v":-34},{"s":"Proposed","t":1.55,"v":-32},{"s":"Proposed","t":1.59,"v":-34},
{"s":"Proposed","t":1.63,"v":-33},{"s":"Proposed","t":1.67,"v":-36},{"s":"Proposed","t":1.70,"v":-37},{"s":"Proposed","t":1.74,"v":-38},{"s":"Proposed","t":1.77,"v":-39},{"s":"Proposed","t":1.80,"v":-41},{"s":"Proposed","t":1.84,"v":-40},{"s":"Proposed","t":1.88,"v":-42.5},{"s":"Proposed","t":1.92,"v":-39},{"s":"Proposed","t":1.95,"v":-37},
{"s":"Proposed","t":1.99,"v":-35},{"s":"Proposed","t":2.03,"v":-33},{"s":"Proposed","t":2.06,"v":-33.5},{"s":"Proposed","t":2.10,"v":-35},{"s":"Proposed","t":2.13,"v":-37},{"s":"Proposed","t":2.17,"v":-41},{"s":"Proposed","t":2.21,"v":-43},{"s":"Proposed","t":2.25,"v":-45},{"s":"Proposed","t":2.28,"v":-44},{"s":"Proposed","t":2.31,"v":-41},
{"s":"Proposed","t":2.34,"v":-40},{"s":"Proposed","t":2.38,"v":-41},{"s":"Proposed","t":2.41,"v":-40},{"s":"Proposed","t":2.45,"v":-39.5},{"s":"Proposed","t":2.49,"v":-41},{"s":"Proposed","t":2.52,"v":-42.5},{"s":"Proposed","t":2.56,"v":-42},{"s":"Proposed","t":2.60,"v":-43.5},{"s":"Proposed","t":2.64,"v":-43},{"s":"Proposed","t":2.68,"v":-44},
{"s":"Proposed","t":2.72,"v":-44.5},{"s":"Proposed","t":2.76,"v":-45},{"s":"Proposed","t":2.80,"v":-45.5},{"s":"Proposed","t":2.84,"v":-45},{"s":"Proposed","t":2.88,"v":-46},{"s":"Proposed","t":2.92,"v":-46.5},{"s":"Proposed","t":2.95,"v":-47.5},{"s":"Proposed","t":2.96,"v":-38},{"s":"Proposed","t":2.98,"v":-27},{"s":"Proposed","t":3.02,"v":-28},
{"s":"Proposed","t":3.06,"v":-29},{"s":"Proposed","t":3.10,"v":-27},{"s":"Proposed","t":3.16,"v":-26},{"s":"Proposed","t":3.19,"v":-36},{"s":"Proposed","t":3.21,"v":-42},{"s":"Proposed","t":3.24,"v":-44},{"s":"Proposed","t":3.27,"v":-44.5},{"s":"Proposed","t":3.30,"v":-38},{"s":"Proposed","t":3.34,"v":-34},{"s":"Proposed","t":3.39,"v":-30.5},
{"s":"Proposed","t":3.44,"v":-31.5},{"s":"Proposed","t":3.50,"v":-34},{"s":"Proposed","t":3.53,"v":-38},{"s":"Proposed","t":3.55,"v":-41},{"s":"Proposed","t":3.58,"v":-35},{"s":"Proposed","t":3.61,"v":-31},{"s":"Proposed","t":3.64,"v":-30},{"s":"Proposed","t":3.68,"v":-31.5},{"s":"Proposed","t":3.71,"v":-31},{"s":"Proposed","t":3.76,"v":-30.5},
{"s":"Proposed","t":3.80,"v":-33.5},{"s":"Proposed","t":3.85,"v":-26},{"s":"Proposed","t":3.88,"v":-24},{"s":"Proposed","t":3.91,"v":-23.5},{"s":"Proposed","t":3.94,"v":-25},{"s":"Proposed","t":3.97,"v":-29},{"s":"Proposed","t":3.99,"v":-34},{"s":"Proposed","t":4.03,"v":-35},{"s":"Proposed","t":4.08,"v":-36},{"s":"Proposed","t":4.12,"v":-38},
{"s":"Proposed","t":4.16,"v":-39},{"s":"Proposed","t":4.20,"v":-40.5},{"s":"Proposed","t":4.24,"v":-42},{"s":"Proposed","t":4.28,"v":-43.5},{"s":"Proposed","t":4.32,"v":-45},{"s":"Proposed","t":4.36,"v":-48},{"s":"Proposed","t":4.39,"v":-51},{"s":"Proposed","t":4.41,"v":-48},{"s":"Proposed","t":4.44,"v":-44},{"s":"Proposed","t":4.47,"v":-47},
{"s":"Proposed","t":4.50,"v":-45.5},{"s":"Proposed","t":4.53,"v":-47.5},{"s":"Proposed","t":4.56,"v":-46},{"s":"Proposed","t":4.59,"v":-48},{"s":"Proposed","t":4.62,"v":-46.5},{"s":"Proposed","t":4.65,"v":-48},{"s":"Proposed","t":4.67,"v":-47}
],
"arrows": [
{"name":"a1","t":1.132,"v":-5.23,"t2":0.972,"v2":-8.18},
{"name":"a2","t":1.677,"v":-47.95,"t2":1.122,"v2":-35.0},
{"name":"a3","t":0.844,"v":-53.6,"t2":0.609,"v2":-47.5}
],
"notes": [
{"label":"NLMS(? 0.2)","t":1.14,"v":-2.3},
{"label":"NLMS(? 0.008)","t":1.70,"v":-50.2},
{"label":"Proposed","t":0.876,"v":-55.9}
]
},
"layer": [
{
  "data": {"name": "series"},
  "mark": {"type": "line", "color": "black", "strokeJoin": "miter", "clip": true},
  "encoding": {
    "x": {"field": "t", "type": "quantitative", "scale": {"domain": [0, 5], "nice": false, "zero": false},
          "axis": {"values": [0, 0.5, 1, 1.5, 2, 2.5, 3, 3.5, 4, 4.5, 5], "format": "~g", "labelPadding": 5, "titlePadding": 3, "title": "Time(sec)"}},
    "y": {"field": "v", "type": "quantitative", "scale": {"domain": [-60, 10], "nice": false, "zero": false},
          "axis": {"values": [-60, -50, -40, -30, -20, -10, 0, 10], "labelPadding": 2, "titlePadding": 4, "title": "Misalignment(dB)"}},
    "strokeDash": {"field": "s", "type": "nominal",
      "scale": {"type": "ordinal", "domain": ["NLMS(? 0.2)", "NLMS(? 0.008)", "Proposed"], "range": [[1, 0], [4, 3], [1, 0]]},
      "legend": {"title": null, "orient": "none", "legendX": 341, "legendY": 4, "fillColor": "white", "strokeColor": "black", "padding": 4, "symbolType": "stroke", "symbolSize": 576, "symbolStrokeColor": "black", "labelFont": "Liberation Sans", "labelFontSize": 13, "labelColor": "black", "rowPadding": 7, "clipHeight": 14, "labelOffset": 1}},
    "strokeWidth": {"field": "s", "type": "nominal",
      "scale": {"type": "ordinal", "domain": ["NLMS(? 0.2)", "NLMS(? 0.008)", "Proposed"], "range": [1.3, 1.1, 2.8]},
      "legend": {"title": null, "orient": "none", "legendX": 341, "legendY": 4, "fillColor": "white", "strokeColor": "black", "padding": 4, "symbolType": "stroke", "symbolSize": 576, "symbolStrokeColor": "black", "labelFont": "Liberation Sans", "labelFontSize": 13, "labelColor": "black", "rowPadding": 7, "clipHeight": 14, "labelOffset": 1}}
  }
},
{
  "data": {"name": "arrows"},
  "mark": {"type": "rule", "color": "black", "strokeWidth": 0.8},
  "encoding": {
    "x": {"field": "t", "type": "quantitative"},
    "y": {"field": "v", "type": "quantitative"},
    "x2": {"field": "t2"},
    "y2": {"field": "v2"}
  }
},
{
  "data": {"name": "arrows"},
  "transform": [{"filter": "datum.name == 'a1'"}],
  "mark": {"type": "point", "shape": "M0,0L-0.5,1.25L0.5,1.25Z", "size": 64, "filled": true, "color": "black", "angle": 229, "opacity": 1},
  "encoding": {"x": {"field": "t2", "type": "quantitative"}, "y": {"field": "v2", "type": "quantitative"}}
},
{
  "data": {"name": "arrows"},
  "transform": [{"filter": "datum.name == 'a2'"}],
  "mark": {"type": "point", "shape": "M0,0L-0.5,1.25L0.5,1.25Z", "size": 64, "filled": true, "color": "black", "angle": 316, "opacity": 1},
  "encoding": {"x": {"field": "t2", "type": "quantitative"}, "y": {"field": "v2", "type": "quantitative"}}
},
{
  "data": {"name": "arrows"},
  "transform": [{"filter": "datum.name == 'a3'"}],
  "mark": {"type": "point", "shape": "M0,0L-0.5,1.25L0.5,1.25Z", "size": 64, "filled": true, "color": "black", "angle": 321, "opacity": 1},
  "encoding": {"x": {"field": "t2", "type": "quantitative"}, "y": {"field": "v2", "type": "quantitative"}}
},
{
  "data": {"name": "notes"},
  "mark": {"type": "text", "align": "left", "baseline": "middle", "font": "Liberation Sans", "fontSize": 13, "color": "black"},
  "encoding": {
    "x": {"field": "t", "type": "quantitative"},
    "y": {"field": "v", "type": "quantitative"},
    "text": {"field": "label"}
  }
}
]
}
